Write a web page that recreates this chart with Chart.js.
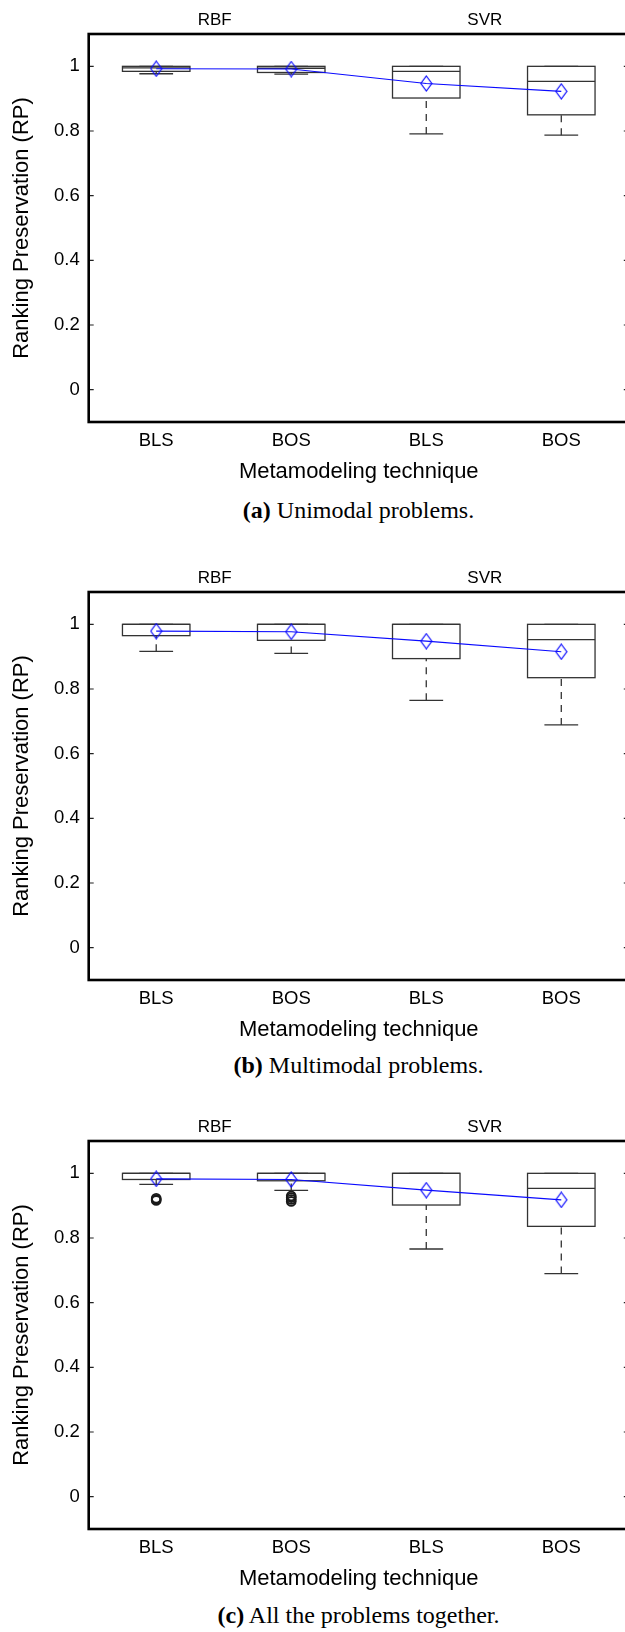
<!DOCTYPE html>
<html>
<head>
<meta charset="utf-8">
<script src="https://cdn.jsdelivr.net/npm/chart.js@4.4.1/dist/chart.umd.min.js"></script>
<style>
  html, body { margin: 0; padding: 0; background: #fff; overflow: hidden; }
  body { position: relative; width: 625px; height: 1632px; }
  canvas { position: absolute; left: 0; }
  .caption {
    position: absolute; left: 0; width: 717px; text-align: center;
    font: 24px/24px "Liberation Serif", "Times New Roman", serif; color: #000;
  }
</style>
</head>
<body>
<canvas id="chartA" width="640" height="486" style="top:0px"></canvas>
<div class="caption" style="top:498px"><b>(a)</b> Unimodal problems.</div>

<canvas id="chartB" width="640" height="486" style="top:558px"></canvas>
<div class="caption" style="top:1053px"><b>(b)</b> Multimodal problems.</div>

<canvas id="chartC" width="640" height="486" style="top:1107px"></canvas>
<div class="caption" style="top:1603px"><b>(c)</b> All the problems together.</div>

<script>
// ── Data ─────────────────────────────────────────────────────────────────────
const categories = ['BLS', 'BOS', 'BLS', 'BOS']
const groups     = ['RBF', 'SVR']
const groupAt    = [0.5, 2.5]            // group label sits between its two boxes
const yTicks     = [0, 0.2, 0.4, 0.6, 0.8, 1]

// (a) Unimodal problems
const uniLow      = [0.977, 0.976, 0.791, 0.787]
const uniQ1       = [0.9845, 0.981, 0.902, 0.850]
const uniMedian   = [0.995, 0.994, 0.9845, 0.9536]
const uniQ3       = [1, 1, 1, 1]
const uniHigh     = [1, 1, 1, 1]
const uniMean     = [0.9926, 0.9917, 0.947, 0.9227]
const uniOutliers = [[], [], [], []]

// (b) Multimodal problems
const multiLow      = [0.9165, 0.910, 0.765, 0.689]
const multiQ1       = [0.965, 0.9505, 0.894, 0.835]
const multiMedian   = [1, 1, 1, 0.9524]
const multiQ3       = [1, 1, 1, 1]
const multiHigh     = [1, 1, 1, 1]
const multiMean     = [0.979, 0.977, 0.948, 0.9153]
const multiOutliers = [[], [], [], []]

// (c) All problems together
const allLow      = [0.966, 0.947, 0.766, 0.690]
const allQ1       = [0.981, 0.977, 0.902, 0.836]
const allMedian   = [1, 1, 1, 0.9536]
const allQ3       = [1, 1, 1, 1]
const allHigh     = [1, 1, 1, 1]
const allMean     = [0.983, 0.981, 0.948, 0.918]
const allOutliers = [[0.923, 0.919, 0.916], [0.930, 0.925, 0.919, 0.913], [], []]

// ── Look ─────────────────────────────────────────────────────────────────────
const SANS  = '"Liberation Sans", Arial, Helvetica, sans-serif'
const INK   = '#000'
const BOX   = '#333'
const BLUE  = '#0a0aff'

Chart.defaults.font.family = SANS
Chart.defaults.color = INK

// Tall thin diamond used as the mean marker
function diamondImage() {
  const c = document.createElement('canvas')
  c.width = 13
  c.height = 17
  const g = c.getContext('2d')
  g.strokeStyle = BLUE
  g.lineWidth = 1.2
  g.beginPath()
  g.moveTo(6.5, 1)
  g.lineTo(12, 8.5)
  g.lineTo(6.5, 16)
  g.lineTo(1, 8.5)
  g.closePath()
  g.stroke()
  return c
}
const diamond = diamondImage()

// ── Box/whisker + frame plugin ───────────────────────────────────────────────
function boxPlugin(stats) {
  return {
    id: 'boxes',
    beforeDatasetsDraw(chart) {
      const { ctx, scales: { x, y } } = chart
      const step    = x.getPixelForValue(1) - x.getPixelForValue(0)
      const half    = step / 4
      const capHalf = step / 8
      const seg = (x1, y1, x2, y2) => {
        ctx.beginPath(); ctx.moveTo(x1, y1); ctx.lineTo(x2, y2); ctx.stroke()
      }
      ctx.save()
      ctx.strokeStyle = BOX
      ctx.lineWidth = 1.3
      stats.q1.forEach((q1, i) => {
        const cx   = x.getPixelForValue(i)
        const yLow = y.getPixelForValue(stats.low[i])
        const yQ1  = y.getPixelForValue(q1)
        const yMed = y.getPixelForValue(stats.median[i])
        const yQ3  = y.getPixelForValue(stats.q3[i])
        const yHi  = y.getPixelForValue(stats.high[i])

        // dashed whiskers, pattern starts at the cap
        ctx.setLineDash([7, 6])
        if (yLow - yQ1 > 0.5) seg(cx, yLow, cx, yQ1)
        if (yQ3 - yHi > 0.5) seg(cx, yHi, cx, yQ3)
        ctx.setLineDash([])
        seg(cx - capHalf, yLow, cx + capHalf, yLow)
        seg(cx - capHalf, yHi, cx + capHalf, yHi)

        ctx.fillStyle = '#fff'
        ctx.fillRect(cx - half, yQ3, half * 2, yQ1 - yQ3)
        ctx.strokeRect(cx - half, yQ3, half * 2, yQ1 - yQ3)
        seg(cx - half, yMed, cx + half, yMed)
      })
      ctx.restore()
    },
    afterDraw(chart) {
      const { ctx, chartArea: a, scales: { y } } = chart
      ctx.save()
      // inward tick marks on both sides
      ctx.strokeStyle = '#222'
      ctx.lineWidth = 1.2
      yTicks.forEach(v => {
        const py = y.getPixelForValue(v)
        ctx.beginPath()
        ctx.moveTo(a.left, py);  ctx.lineTo(a.left + 5, py)
        ctx.moveTo(a.right, py); ctx.lineTo(a.right - 5, py)
        ctx.stroke()
      })
      // heavy frame
      ctx.strokeStyle = '#000'
      ctx.lineWidth = 2.6
      ctx.strokeRect(a.left, a.top, a.right - a.left, a.bottom - a.top)
      ctx.restore()
    },
  }
}

// ── One panel ────────────────────────────────────────────────────────────────
function makePanel(canvasId, stats) {
  const meanPoints    = stats.mean.map((v, i) => ({ x: i, y: v }))
  const outlierPoints = stats.outliers.flatMap((vals, i) => vals.map(v => ({ x: i, y: v })))

  return new Chart(document.getElementById(canvasId), {
    type: 'line',
    plugins: [boxPlugin(stats)],
    data: {
      datasets: [
        {
          label: 'Mean',
          data: meanPoints,
          borderColor: BLUE,
          borderWidth: 1.1,
          pointStyle: diamond,
          pointRadius: 6,
          pointHoverRadius: 6,
          tension: 0,
          fill: false,
        },
        {
          label: 'Outliers',
          data: outlierPoints,
          showLine: false,
          pointStyle: 'circle',
          pointRadius: 4.4,
          pointBorderWidth: 1.9,
          pointBorderColor: '#1a1a1a',
          pointBackgroundColor: 'rgba(0,0,0,0)',
        },
      ],
    },
    options: {
      responsive: false,
      animation: false,
      devicePixelRatio: 1,
      layout: { padding: { left: 0, right: 11.2, top: 0, bottom: 0 } },
      plugins: { legend: { display: false }, tooltip: { enabled: false } },
      scales: {
        x: {
          type: 'linear',
          position: 'bottom',
          min: -0.5,
          max: categories.length - 0.5,
          afterBuildTicks: s => { s.ticks = categories.map((_, i) => ({ value: i })) },
          afterFit: s => { s.height = 64 },
          ticks: {
            callback: v => categories[v],
            font: { size: 18.5 },
            color: INK,
            padding: 8,
            maxRotation: 0,
            autoSkip: false,
          },
          grid: { display: false, drawTicks: false },
          border: { display: false },
          title: {
            display: true,
            text: 'Metamodeling technique',
            font: { size: 22 },
            color: INK,
            padding: { top: 0, bottom: 1 },
          },
        },
        top: {
          type: 'linear',
          position: 'top',
          axis: 'x',
          min: -0.5,
          max: categories.length - 0.5,
          afterBuildTicks: s => { s.ticks = groupAt.map(v => ({ value: v })) },
          afterFit: s => { s.height = 34 },
          ticks: {
            callback: (v, i) => groups[i],
            font: { size: 17 },
            color: INK,
            padding: 3.4,
            labelOffset: -9,
            maxRotation: 0,
            autoSkip: false,
          },
          grid: { display: false, drawTicks: false },
          border: { display: false },
        },
        y: {
          type: 'linear',
          min: -0.1,
          max: 1.1,
          afterBuildTicks: s => { s.ticks = yTicks.map(v => ({ value: v })) },
          afterFit: s => { s.width = 88.7 },
          ticks: {
            callback: v => String(+v.toFixed(1)),
            font: { size: 18.5 },
            color: INK,
            padding: 9,
          },
          grid: { display: false, drawTicks: false },
          border: { display: false },
          title: {
            display: true,
            text: 'Ranking Preservation (RP)',
            font: { size: 22 },
            color: INK,
            padding: { top: 8.5, bottom: 0 },
          },
        },
      },
    },
  })
}

makePanel('chartA', {
  low: uniLow, q1: uniQ1, median: uniMedian, q3: uniQ3, high: uniHigh,
  mean: uniMean, outliers: uniOutliers,
})
makePanel('chartB', {
  low: multiLow, q1: multiQ1, median: multiMedian, q3: multiQ3, high: multiHigh,
  mean: multiMean, outliers: multiOutliers,
})
makePanel('chartC', {
  low: allLow, q1: allQ1, median: allMedian, q3: allQ3, high: allHigh,
  mean: allMean, outliers: allOutliers,
})
</script>
</body>
</html>
